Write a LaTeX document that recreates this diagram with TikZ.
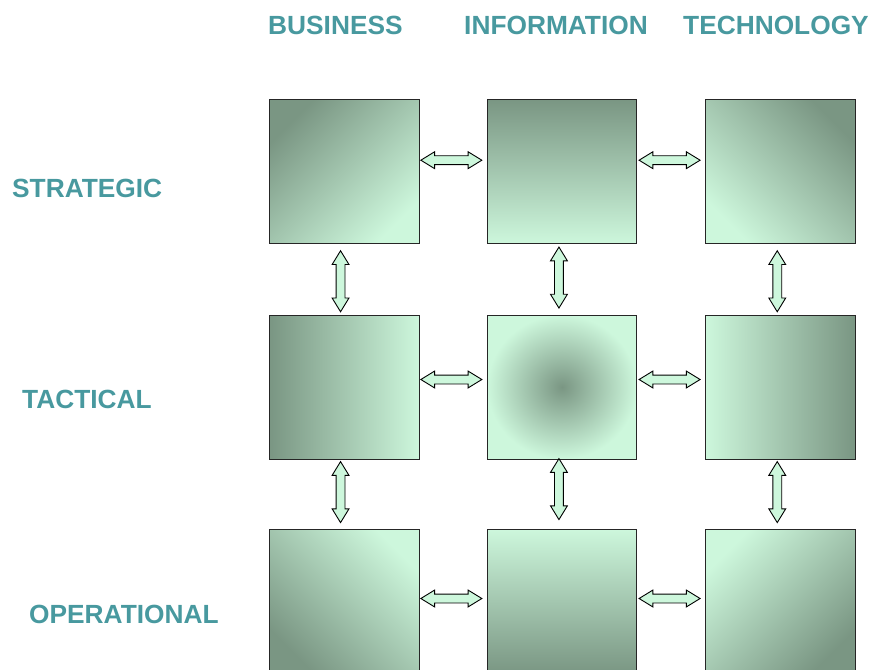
\documentclass[tikz,border=0pt]{standalone}
\usepackage{fontspec}
\setmainfont{Liberation Sans}
\usetikzlibrary{shapes.arrows,calc}
\definecolor{gdark}{RGB}{122,150,131}
\definecolor{glight}{RGB}{205,247,220}
\definecolor{tealtxt}{RGB}{72,153,159}
\begin{document}
\begin{tikzpicture}[x=1pt,y=-1pt,
  box/.style={draw=black!85, line width=1pt, minimum width=149.5pt, minimum height=144pt, anchor=north west, inner sep=0pt},
  barrow/.style={double arrow, draw=black, line width=0.9pt, fill=glight, minimum height=61pt, minimum width=16pt, double arrow head extend=4pt, double arrow tip angle=63, inner xsep=0pt, inner ysep=4pt},
  varrow/.style={barrow, rotate=90},
  lbl/.style={font=\fontsize{26.3}{30}\selectfont\bfseries, text=tealtxt, inner sep=0pt, anchor=base west}]
\useasboundingbox (0,0) rectangle (871,670);
% headers
\node[lbl] (hbus) at (268,34) {BUSINESS};
\node[lbl] (hinf) at (464,34) {INFORMATION};
\node[lbl] (htec) at (683,34) {TECHNOLOGY};
% row labels
\node[lbl] (lstr) at (12,197.5) {STRATEGIC};
\node[lbl] (ltac) at (22,408.5) {TACTICAL};
\node[lbl] (lope) at (29,623.8) {OPERATIONAL};
% boxes
\node[box, top color=gdark, bottom color=glight, shading angle=45] (b11) at (269.3,99) {};
\node[box, top color=gdark, bottom color=glight] (b12) at (486.7,99) {};
\node[box, top color=gdark, bottom color=glight, shading angle=-45] (b13) at (705,99) {};
\node[box, left color=gdark, right color=glight] (b21) at (269.3,314.5) {};
\node[box, inner color=gdark, outer color=glight] (b22) at (486.7,314.5) {};
\node[box, left color=glight, right color=gdark] (b23) at (705,314.5) {};
\node[box, top color=glight, bottom color=gdark, shading angle=-45] (b31) at (269.3,528.7) {};
\node[box, top color=glight, bottom color=gdark] (b32) at (486.7,528.7) {};
\node[box, top color=glight, bottom color=gdark, shading angle=45] (b33) at (705,528.7) {};
% horizontal arrows
\node[barrow] (h11) at ($(b11.east)!0.5!(b12.west)+(-1.9,-11.3)$) {};
\node[barrow] (h12) at ($(b12.east)!0.5!(b13.west)+(-1.5,-11.3)$) {};
\node[barrow] (h21) at ($(b21.east)!0.5!(b22.west)+(-1.9,-7.5)$) {};
\node[barrow] (h22) at ($(b22.east)!0.5!(b23.west)+(-1.5,-7.5)$) {};
\node[barrow] (h31) at ($(b31.east)!0.5!(b32.west)+(-1.9,-2.7)$) {};
\node[barrow] (h32) at ($(b32.east)!0.5!(b33.west)+(-1.5,-2.7)$) {};
% vertical arrows
\node[varrow] (v11) at ($(b11.south)!0.5!(b21.north)+(-4,2)$) {};
\node[varrow] (v12) at ($(b12.south)!0.5!(b22.north)+(-3,-1.7)$) {};
\node[varrow] (v13) at ($(b13.south)!0.5!(b23.north)+(-3,2)$) {};
\node[varrow] (v21) at ($(b21.south)!0.5!(b31.north)+(-4,-2)$) {};
\node[varrow] (v22) at ($(b22.south)!0.5!(b32.north)+(-3,-5)$) {};
\node[varrow] (v23) at ($(b23.south)!0.5!(b33.north)+(-3,-2)$) {};
\end{tikzpicture}
\end{document}
